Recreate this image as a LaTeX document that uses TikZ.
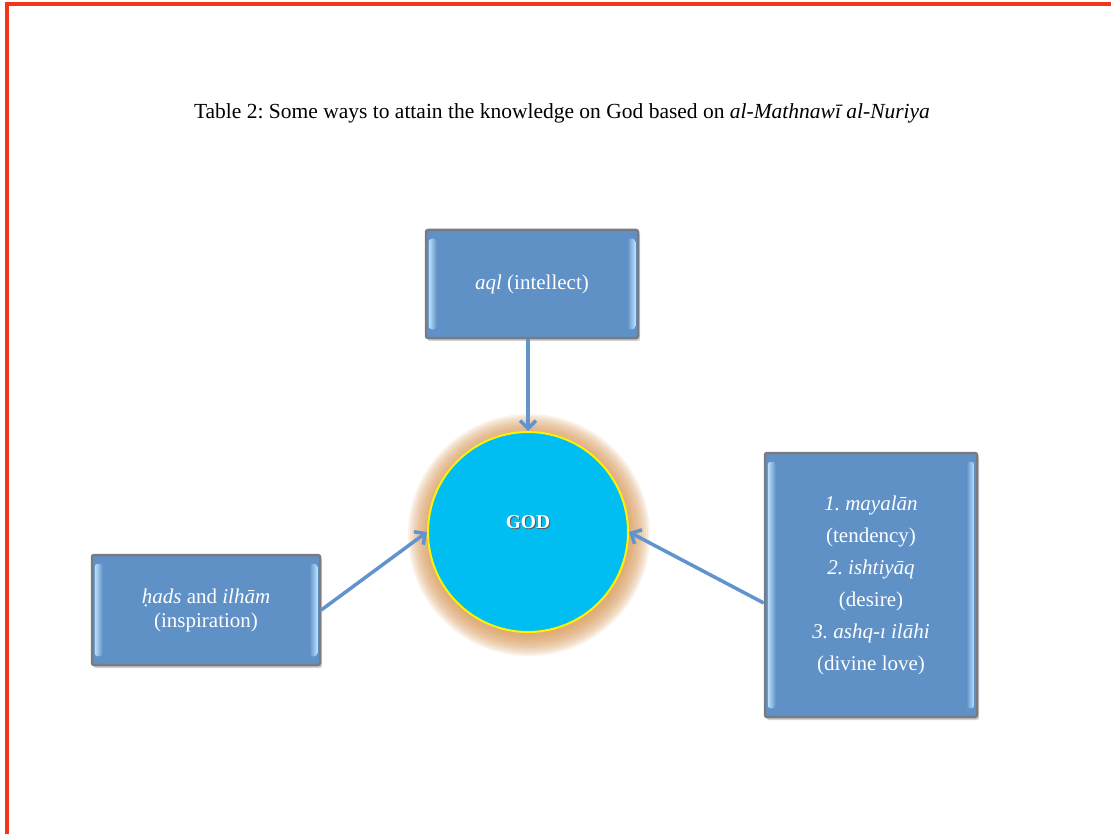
\documentclass[tikz,border=0pt]{standalone}
\usepackage{fontspec}
\setmainfont{Liberation Serif}
\usetikzlibrary{arrows.meta, shadows}
\frenchspacing

\definecolor{boxblue}{RGB}{95,145,199}
\definecolor{boxedge}{RGB}{120,124,130}
\definecolor{stripcol}{RGB}{188,224,250}
\definecolor{godblue}{RGB}{0,189,242}
\definecolor{godrim}{RGB}{255,242,0}
\definecolor{glow}{RGB}{214,150,84}
\definecolor{linkblue}{RGB}{97,148,204}
\definecolor{frame}{RGB}{242,54,26}

\begin{document}
\begin{tikzpicture}[x=1pt, y=-1pt,
 waybox/.style={draw=boxedge, line width=2.5pt, fill=boxblue, rounded corners=2pt,
  text=white, align=center, font=\fontsize{21}{32}\selectfont,
  drop shadow={shadow xshift=2pt, shadow yshift=-3pt, opacity=0.35}},
 godcircle/.style={circle, draw=godrim, line width=2pt, fill=godblue, minimum size=200pt, inner sep=0pt},
 link/.style={draw=linkblue, line width=3.5pt, -{Straight Barb[length=8pt, width=16pt]}}]
 \useasboundingbox (0,0) rectangle (1111,834);
 \draw[frame, line width=3.5pt] (7,834) -- (7,4) -- (1111,4);

 \node[font=\fontsize{21.5}{25}\selectfont] (title) at (562,113)
  {Table 2: Some ways to attain the knowledge on God based on \textit{al-Mathnawī al-Nuriya}};

 % boxes
 \node[waybox, minimum width=212pt, minimum height=108pt] (aql) at (532,284) {\textit{aql} (intellect)};
 \node[waybox, minimum width=228pt, minimum height=110pt, font=\fontsize{21}{24}\selectfont] (had) at (206,610)
  {\textit{ḥads} and \textit{ilhām}\\(inspiration)};
 \node[waybox, minimum width=212pt, minimum height=264pt] (love) at (871,585)
  {\textit{1. mayalān}\\(tendency)\\\textit{2. ishtiyāq}\\(desire)\\\textit{3. ashq-ı ilāhi}\\(divine love)};
 \foreach \n in {aql,had,love}{
  \shade[left color=stripcol, right color=boxblue, rounded corners=3pt]
   ([xshift=4pt,yshift=-10pt]\n.north west) rectangle ([xshift=12pt,yshift=10pt]\n.south west);
  \shade[left color=boxblue, right color=stripcol, rounded corners=3pt]
   ([xshift=-12pt,yshift=-10pt]\n.north east) rectangle ([xshift=-4pt,yshift=10pt]\n.south east);
 }

 % god with glow
 \coordinate (godc) at (529,535);
 \foreach \r in {101,103,...,121}
  \fill[glow, opacity=0.13] (godc) circle (\r);
 \node[godcircle] (god) at (528,532) {};
 \node[font=\bfseries\fontsize{19.5}{22}\selectfont, text=black!65] at ([xshift=1pt,yshift=9pt]god.center) {GOD};
 \node[font=\bfseries\fontsize{19.5}{22}\selectfont, text=white] at ([yshift=10pt]god.center) {GOD};

 % connectors
 \draw[link] (aql.south -| god.north) -- (god.north);
 \draw[link] (had.east) -- (god.west);
 \draw[link] ([yshift=-18pt]love.west) -- (god.east);
\end{tikzpicture}
\end{document}
